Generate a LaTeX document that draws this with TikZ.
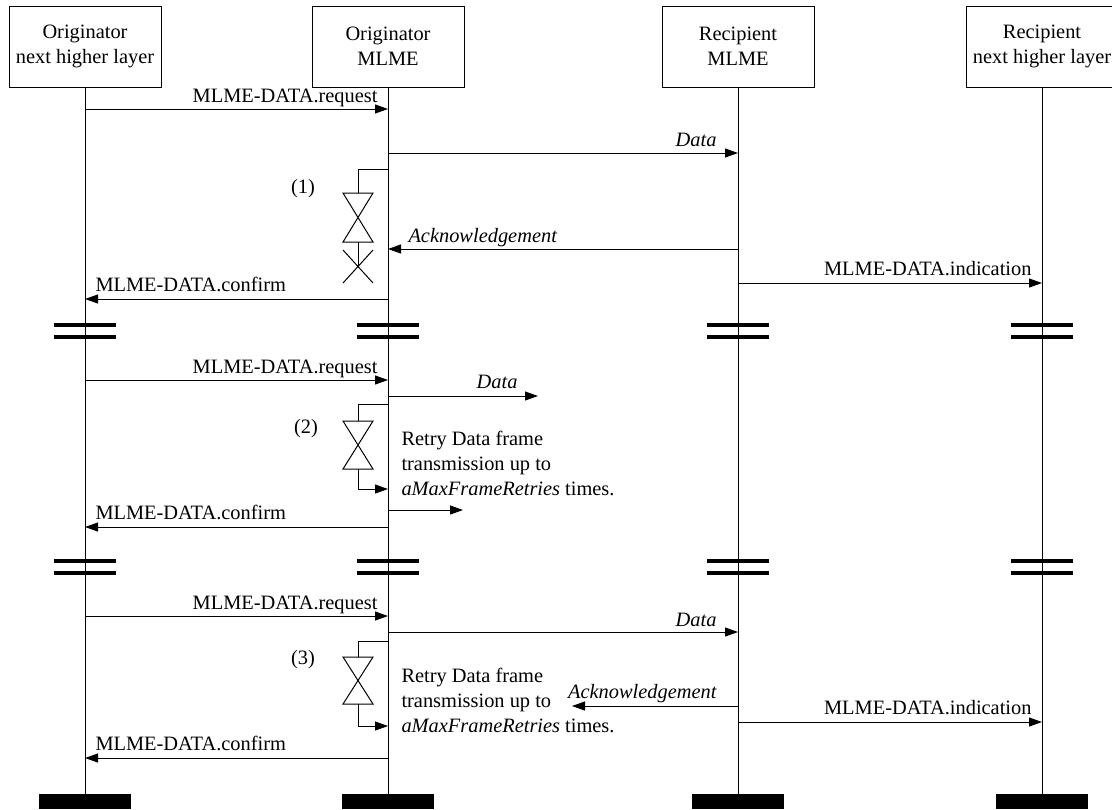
\documentclass[tikz,border=0pt]{standalone}
\usepackage{fontspec}
\setmainfont{Liberation Serif}
\usetikzlibrary{arrows.meta}
\begin{document}
\begin{tikzpicture}[x=0.5pt, y=-0.5pt, line width=0.5pt, font=\fontsize{10.2}{12.5}\selectfont,
  entity/.style={draw, fill=white, minimum width=76pt, minimum height=40.5pt, align=center, inner sep=0pt},
  msg/.style={-{Triangle[length=6.5pt, width=4.5pt]}},
  lbl/.style={anchor=base east, inner sep=0pt},
  lblw/.style={anchor=base west, inner sep=0pt},
  brk/.style={line width=2.35pt},
  foot/.style={fill=black, minimum width=46pt, minimum height=7.5pt, inner sep=0pt}]
\useasboundingbox (0,0) rectangle (1112,809);
% entities and lifelines
\node[entity] (onl) at (85,46.5) {Originator\\next higher layer};
\node[entity] (oml) at (388,46.5) {Originator\\MLME};
\node[entity] (rml) at (738,46.5) {Recipient\\MLME};
\node[entity] (rnl) at (1042,46.5) {Recipient\\next higher layer};
\foreach \x/\n in {85/onl,388/oml,738/rml,1042/rnl} {
  \node[foot] (\n-end) at (\x,801.5) {};
  \draw (\n.south) -- (\n-end.north);
}
% breaks
\foreach \x in {85,388,738,1042}
  \foreach \y in {325,337,561,573}
    \draw[brk] (\x-31,\y) -- (\x+31,\y);
% points on the lifelines
\foreach \y in {109,153,169,249,283,299,380,396,404,489,510,527,616,632,641,706,722,726,758} {
  \coordinate (A\y) at (85,\y);
  \coordinate (B\y) at (388,\y);
  \coordinate (C\y) at (738,\y);
  \coordinate (D\y) at (1042,\y);
}
\coordinate (data2end) at (538,396);
\coordinate (retry2end) at (463,510);
\coordinate (ack3end) at (572,706);
% (1) acknowledged
\draw[msg] (A109) -- (B109);
\node[lbl] (req1) at (378,102) {MLME-DATA.request};
\draw[msg] (B153) -- (C153);
\node[lbl] (data1) at (717,146) {\itshape Data};
\draw (B169) -- (358,169) -- (358,193);
\draw (343,193) -- (373,193) -- (343,242) -- (373,242) -- cycle;
\draw (358,242) -- (358,266.5);
\draw (343,250) -- (373,283) (373,250) -- (343,283);
\node (t1) at (303,189) {(1)};
\draw[msg] (C249) -- (B249);
\node[lblw] (ack1) at (408,242) {\itshape Acknowledgement};
\draw[msg] (C283) -- (D283);
\node[lbl] (ind1) at (1032,275) {MLME-DATA.indication};
\draw[msg] (B299) -- (A299);
\node[lblw] (conf1) at (95,291) {MLME-DATA.confirm};
% (2) no acknowledgement
\draw[msg] (A380) -- (B380);
\node[lbl] (req2) at (378,373) {MLME-DATA.request};
\draw[msg] (B396) -- (data2end);
\node[lbl] (data2) at (518,388) {\itshape Data};
\draw (B404) -- (358,404) -- (358,421);
\draw (343,421) -- (373,421) -- (343,469) -- (373,469) -- cycle;
\draw[msg] (358,469) -- (358,489) -- (B489);
\node (t2) at (306,429) {(2)};
\node[lblw, align=left] (retry2) at (401,495) {Retry Data frame\\transmission up to\\\textit{aMaxFrameRetries} times.};
\draw[msg] (B510) -- (retry2end);
\draw[msg] (B527) -- (A527);
\node[lblw] (conf2) at (95,519) {MLME-DATA.confirm};
% (3) late acknowledgement
\draw[msg] (A616) -- (B616);
\node[lbl] (req3) at (378,609) {MLME-DATA.request};
\draw[msg] (B632) -- (C632);
\node[lbl] (data3) at (717,626) {\itshape Data};
\draw (B641) -- (358,641) -- (358,657);
\draw (343,657) -- (373,657) -- (343,704) -- (373,704) -- cycle;
\draw[msg] (358,704) -- (358,726) -- (B726);
\node (t3) at (303,660) {(3)};
\node[lblw, align=left] (retry3) at (401,732) {Retry Data frame\\transmission up to\\\textit{aMaxFrameRetries} times.};
\draw[msg] (C706) -- (ack3end);
\node[lbl] (ack3) at (717,698) {\itshape Acknowledgement};
\draw[msg] (C722) -- (D722);
\node[lbl] (ind3) at (1032,714) {MLME-DATA.indication};
\draw[msg] (B758) -- (A758);
\node[lblw] (conf3) at (95,750) {MLME-DATA.confirm};
\end{tikzpicture}
\end{document}
